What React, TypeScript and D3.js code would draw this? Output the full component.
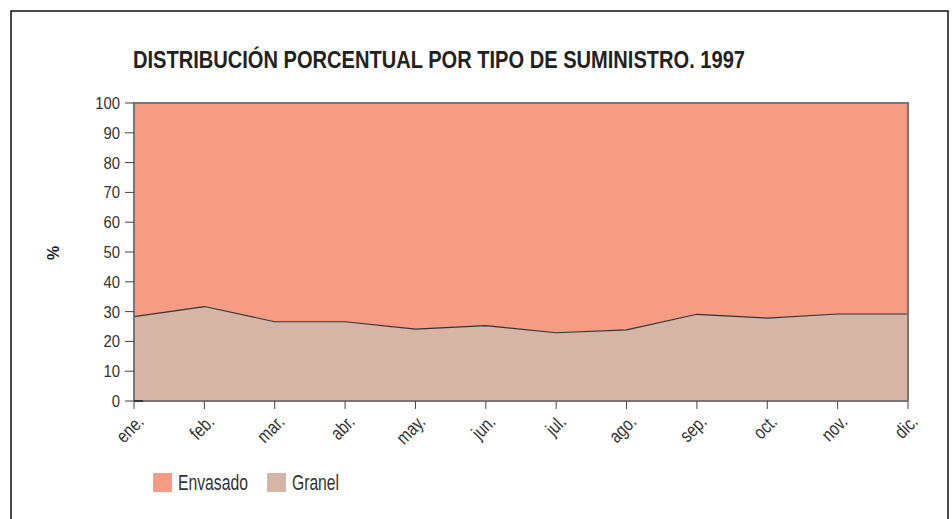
import * as d3 from 'd3';

const months = ['ene.', 'feb.', 'mar.', 'abr.', 'may.', 'jun.', 'jul.', 'ago.', 'sep.', 'oct.', 'nov.', 'dic.'];
const granel = [28.3, 31.7, 26.6, 26.6, 24.1, 25.3, 22.9, 23.9, 29.1, 27.8, 29.2, 29.2];
const envasado = granel.map((g) => 100 - g);
const yTicks = [0, 10, 20, 30, 40, 50, 60, 70, 80, 90, 100];

const colors = { Envasado: '#f69b84', Granel: '#d5b5a6' };
const font = '"Liberation Sans", Arial, sans-serif';

const W = 952;
const H = 519;
const left = 134;
const right = 908;
const top = 103;
const bottom = 401;

export default function App() {
  const x = d3.scalePoint<string>().domain(months).range([left, right]);
  const y = d3.scaleLinear().domain([0, 100]).range([bottom, top]);

  const rows = months.map((m, i) => ({ m, g: granel[i], e: envasado[i] }));

  const granelArea = d3
    .area<(typeof rows)[number]>()
    .x((d) => x(d.m)!)
    .y0(y(0))
    .y1((d) => y(d.g));
  const envArea = d3
    .area<(typeof rows)[number]>()
    .x((d) => x(d.m)!)
    .y0((d) => y(d.g))
    .y1((d) => y(d.g + d.e));
  const line = d3
    .line<(typeof rows)[number]>()
    .x((d) => x(d.m)!)
    .y((d) => y(d.g));

  return (
    <svg
      width={W}
      height={H}
      style={{ position: 'absolute', left: 0, top: 0, fontFamily: font }}
    >
      <rect x={0} y={0} width={W} height={H} fill="#fff" />
      <path d={`M11,${H + 5} V11 H948 V${H + 5}`} fill="none" stroke="#111" strokeWidth={1.5} />

      <text x={133} y={68} fontSize={24} fontWeight="bold" fill="#222" textLength={612} lengthAdjust="spacingAndGlyphs">
        DISTRIBUCIÓN PORCENTUAL POR TIPO DE SUMINISTRO. 1997
      </text>

      <path d={envArea(rows)!} fill={colors.Envasado} />
      <path d={granelArea(rows)!} fill={colors.Granel} />
      <path d={line(rows)!} fill="none" stroke="#333" strokeWidth={1.2} />

      {/* plot frame */}
      <path d={`M${left},${bottom} V${top} H${right} V${bottom}`} fill="none" stroke="#777" strokeWidth={2} />
      <line x1={left} x2={right} y1={bottom} y2={bottom} stroke="#777" strokeWidth={2} />
      <line x1={left} x2={left + 9} y1={bottom} y2={bottom} stroke="#222" strokeWidth={1.5} />

      {yTicks.map((t) => (
        <g key={t}>
          <line x1={left - 9} x2={left} y1={y(t)} y2={y(t)} stroke="#444" strokeWidth={1} />
          <text
            transform={`translate(120,${y(t)}) scale(0.9,1)`}
            dy="0.36em"
            textAnchor="end"
            fontSize={16.5}
            fill="#333"
          >
            {t}
          </text>
        </g>
      ))}

      {months.map((m) => (
        <g key={m}>
          <line x1={x(m)} x2={x(m)} y1={bottom} y2={bottom + 8} stroke="#444" strokeWidth={1} />
          <text
            transform={`translate(${x(m)! + 11},${bottom + 22}) rotate(-45) scale(0.8,1)`}
            textAnchor="end"
            fontSize={19}
            fill="#333"
          >
            {m}
          </text>
        </g>
      ))}

      <text transform={`translate(59,253) rotate(-90)`} textAnchor="middle" fontSize={16} fontWeight="bold" fill="#222">
        %
      </text>

      {(['Envasado', 'Granel'] as const).map((k, i) => {
        const lx = i === 0 ? 153 : 267;
        return (
          <g key={k}>
            <rect x={lx} y={473} width={19} height={19} fill={colors[k]} />
            <text
              x={lx + 25}
              y={490}
              fontSize={22}
              fill="#333"
              textLength={k === 'Envasado' ? 70 : 47}
              lengthAdjust="spacingAndGlyphs"
            >
              {k}
            </text>
          </g>
        );
      })}
    </svg>
  );
}
